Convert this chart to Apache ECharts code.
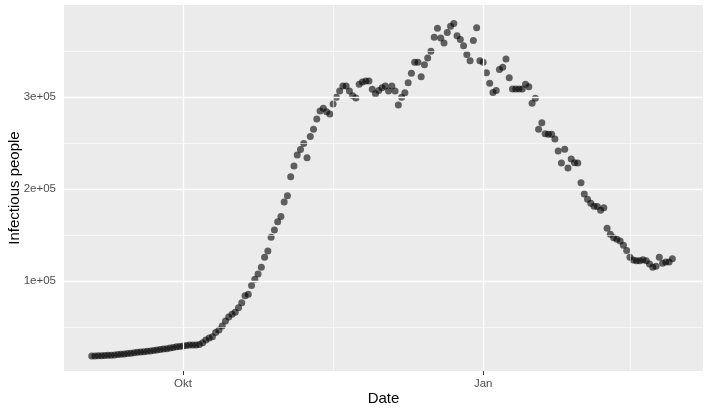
<!DOCTYPE html>
<html>
<head>
<meta charset="utf-8">
<script src="https://cdn.jsdelivr.net/npm/echarts@6/dist/echarts.min.js"></script>
<style>
html,body{margin:0;padding:0;background:#fff;}
#chart{width:708px;height:415px;}
</style>
</head>
<body>
<div id="chart"></div>
<script>
// Day offsets are relative to 1 Oct (2020); the series starts on 3 Sep (offset -28), one point per day.
const startDay = -28;
// Infectious people, in thousands, daily from 3 Sep to 28 Feb
const infectiousK = [
  18.5, 18.6, 18.7, 18.9, 19.0, 19.2, 19.4, 19.7, 20.0, 20.4, 20.8, 21.2, 21.6, 22.0,
  22.5, 22.9, 23.2, 23.6, 24.0, 24.4, 25.0, 25.7, 26.0, 26.5, 27.2, 27.8, 28.5, 28.8,
  29.5, 30.0, 30.5, 30.5, 30.5, 31.0, 33.0, 36.0, 38.0, 39.5, 44.0, 46.7, 51.0, 56.5,
  61.0, 64.0, 66.0, 71.0, 76.4, 84.0, 85.5, 95.0, 102.0, 107.6, 115.0, 125.8, 132.6, 147.5,
  155.4, 164.5, 170.0, 186.0, 192.7, 213.4, 225.0, 237.0, 243.0, 249.6, 234.0, 257.0, 265.0, 276.0,
  284.8, 287.7, 284.0, 281.5, 292.4, 299.6, 306.5, 312.0, 312.0, 306.5, 301.4, 299.0, 313.8, 316.3,
  317.4, 317.4, 308.4, 303.6, 307.2, 310.0, 312.0, 306.5, 312.0, 306.5, 291.3, 299.6, 304.7, 315.5,
  325.7, 337.7, 337.7, 322.0, 335.0, 342.4, 349.6, 364.9, 374.6, 364.0, 358.7, 370.0, 377.0, 380.0,
  366.6, 362.5, 355.8, 346.2, 339.5, 361.3, 375.2, 339.5, 337.7, 326.4, 315.0, 305.0, 307.0, 330.0,
  332.3, 341.3, 321.0, 308.7, 308.7, 308.7, 308.7, 313.8, 311.2, 293.1, 298.6, 264.9, 272.0, 260.0,
  259.4, 259.4, 254.3, 241.3, 228.3, 243.3, 222.9, 232.6, 228.6, 228.4, 206.9, 194.6, 188.8, 184.5,
  181.4, 181.0, 176.8, 179.7, 157.3, 150.7, 147.0, 145.3, 143.5, 139.0, 133.3, 125.7, 122.8, 122.0,
  122.0, 123.2, 122.0, 118.5, 114.9, 116.0, 125.7, 119.2, 120.6, 120.6, 124.2
];
const xTickDays = [0, 92];
const xTickLabels = ['Okt', 'Jan'];
const xMinorDays = [46, 137];
const yTickValues = [100000, 200000, 300000];
const yTickLabels = ['1e+05', '2e+05', '3e+05'];
const yMinorValues = [50000, 150000, 250000, 350000];

const points = infectiousK.map((v, i) => [startDay + i, v * 1000]);

const major = {color: '#FFFFFF', width: 1.3, type: 'solid'};
const minor = {color: '#FFFFFF', width: 0.6, type: 'solid'};
const gridLines = []
  .concat(xMinorDays.map(d => ({xAxis: d, lineStyle: minor})))
  .concat(yMinorValues.map(v => ({yAxis: v, lineStyle: minor})))
  .concat(xTickDays.map(d => ({xAxis: d, lineStyle: major})))
  .concat(yTickValues.map(v => ({yAxis: v, lineStyle: major})));

const font = 'Liberation Sans, Helvetica, Arial, sans-serif';
const chart = echarts.init(document.getElementById('chart'), null, {renderer: 'canvas'});
chart.setOption({
  animation: false,
  backgroundColor: '#FFFFFF',
  grid: {left: 64, top: 5, width: 639, height: 366, show: true, backgroundColor: '#EBEBEB', borderWidth: 0,
    containLabel: false, outerBoundsMode: 'none'},
  xAxis: {
    type: 'value', min: -36.5, max: 159.4,
    name: 'Date', nameLocation: 'middle', nameGap: 20, nameMoveOverlap: false,
    nameTextStyle: {color: '#000', fontSize: 15, fontFamily: font},
    axisLine: {show: false},
    axisTick: {show: true, customValues: xTickDays, length: 4, lineStyle: {color: '#333333', width: 1}},
    axisLabel: {customValues: xTickDays, margin: 7, color: '#4D4D4D', fontSize: 11.5, fontFamily: font,
      formatter: v => xTickLabels[xTickDays.indexOf(v)]},
    splitLine: {show: false}
  },
  yAxis: {
    type: 'value', min: 2200, max: 400000,
    name: 'Infectious people', nameLocation: 'middle', nameGap: 42, nameMoveOverlap: false,
    nameTextStyle: {color: '#000', fontSize: 15, fontFamily: font},
    axisLine: {show: false},
    axisTick: {show: true, customValues: yTickValues, length: 4, lineStyle: {color: '#333333', width: 1}},
    axisLabel: {customValues: yTickValues, margin: 8, color: '#4D4D4D', fontSize: 11.5, fontFamily: font,
      formatter: v => yTickLabels[yTickValues.indexOf(v)]},
    splitLine: {show: false}
  },
  series: [
    {
      type: 'line', data: [], z: 1, silent: true,
      markLine: {silent: true, symbol: ['none', 'none'], label: {show: false}, animation: false, data: gridLines}
    },
    {
      type: 'scatter', data: points, z: 3, symbol: 'circle', symbolSize: 7,
      itemStyle: {color: 'rgba(0,0,0,0.75)', borderWidth: 0}
    }
  ]
});
</script>
</body>
</html>
